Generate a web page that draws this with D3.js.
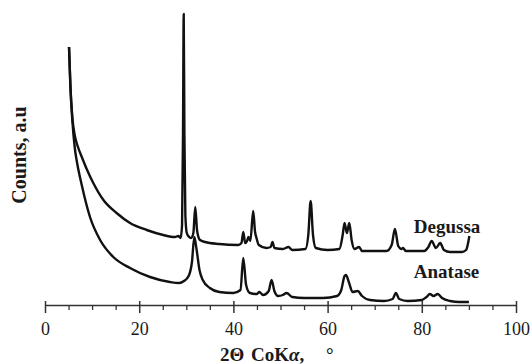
<!DOCTYPE html>
<html>
<head>
<meta charset="utf-8">
<script src="https://cdn.jsdelivr.net/npm/d3@7"></script>
<style>
  html, body { margin: 0; padding: 0; background: #fff; }
  svg { display: block; }
  text { font-family: 'Liberation Serif', 'Times New Roman', serif; fill: #1a1a1a; }
</style>
</head>
<body>
<div id="chart"></div>
<script>
// x ticks (2 theta, degrees)
const majorTicks = [0, 20, 40, 60, 80, 100];
const minorTicks = [5, 10, 15, 25, 30, 35, 45, 50, 55, 65, 70, 75, 85, 90, 95];

// Degussa pattern: [2theta, counts a.u.]
const degussa = [
  [5.1, 258], [5.4, 218], [5.8, 188], [6.3, 170], [7.0, 158], [7.9, 147],
  [8.85, 136], [10.25, 122], [12.4, 105], [15.2, 92], [18.05, 82], [21.6, 75],
  [25.1, 70], [27.6, 68], [28.3, 69], [28.8, 67], [29.1, 80], [29.3, 170],
  [29.45, 291], [29.6, 170], [29.8, 90], [30.1, 72], [30.6, 68], [31.0, 67],
  [31.5, 72], [31.9, 98], [32.3, 74], [32.9, 65], [34.0, 63], [37.0, 61],
  [41.0, 60], [41.7, 62], [42.1, 73], [42.5, 62], [42.9, 64], [43.2, 68],
  [43.6, 64], [44.2, 94], [44.6, 73], [44.9, 67], [45.4, 60], [47.0, 57],
  [47.9, 58], [48.3, 63], [48.7, 57], [50.5, 56], [51.7, 58], [52.5, 55],
  [55.3, 56], [55.9, 70], [56.4, 104], [56.9, 70], [57.5, 57], [60.0, 55],
  [62.5, 56], [63.2, 70], [63.6, 82], [64.1, 72], [64.6, 82], [65.1, 65],
  [65.7, 56], [66.7, 58], [67.3, 54], [72.5, 54], [73.6, 60], [74.3, 76],
  [75.0, 59], [75.7, 56], [76.0, 57], [76.6, 54], [80.5, 54], [81.4, 58],
  [82.1, 64], [83.0, 57], [83.9, 62], [84.7, 55], [86.0, 53], [88.5, 53],
  [89.4, 55], [90.1, 69]
];

// Anatase pattern: [2theta, counts a.u.]
const anatase = [
  [5.1, 258], [5.4, 218], [5.8, 185], [6.3, 158], [6.9, 140], [7.8, 120],
  [9.55, 88], [11.7, 65], [14.5, 48], [18.05, 37], [22.3, 28], [26.5, 23],
  [28.5, 22], [29.5, 24], [30.5, 29], [31.2, 43], [31.7, 68], [32.2, 55],
  [32.8, 35], [33.5, 25], [35.0, 17], [37.0, 13], [40.0, 12], [41.5, 15],
  [42.1, 47], [42.7, 20], [43.5, 12], [45.0, 11], [45.5, 13], [46.3, 10],
  [47.5, 14], [48.1, 25], [48.7, 14], [49.5, 9], [50.5, 10], [51.3, 12],
  [52.5, 8], [55.0, 7], [59.0, 7], [62.0, 9], [62.9, 15], [63.6, 29],
  [63.9, 30], [64.5, 23], [65.3, 13], [66.4, 14], [67.3, 9], [69.0, 5],
  [72.0, 4], [73.8, 6], [74.5, 12], [75.2, 6], [77.0, 4], [80.0, 5],
  [81.0, 8], [81.7, 11], [82.5, 9], [83.4, 11], [84.3, 7], [86.0, 4],
  [88.0, 3], [90.0, 3]
];

// label anchors [2theta, counts]
const seriesLabels = [
  { name: 'Degussa', at: [78.3, 72] },
  { name: 'Anatase', at: [78.3, 27] }
];

const width = 532;
const height = 364;
const margin = { left: 45, right: 16, top: 5, bottom: 59 };

const svg = d3.select('#chart')
  .append('svg')
    .attr('width', width)
    .attr('height', height);

const xScale = d3.scaleLinear()
  .domain([0, 100])
  .range([margin.left, width - margin.right]);

const yScale = d3.scaleLinear()
  .domain([0, 300])
  .range([height - margin.bottom, margin.top]);

const axisY = yScale(0);

//
// Axis
//
const minorAxis = d3.axisBottom(xScale)
  .tickValues(minorTicks)
  .tickSize(5)
  .tickSizeOuter(0)
  .tickFormat('');

svg.append('g')
  .attr('class', 'x minor')
  .attr('transform', `translate(0, ${axisY})`)
  .call(minorAxis)
  .call(g => g.select('.domain').remove())
  .call(g => g.selectAll('line').attr('stroke', '#333').attr('stroke-width', 1.3));

const xAxis = d3.axisBottom(xScale)
  .tickValues(majorTicks)
  .tickSize(8)
  .tickSizeOuter(0)
  .tickPadding(9);

svg.append('g')
  .attr('class', 'x axis')
  .attr('transform', `translate(0, ${axisY})`)
  .call(xAxis)
  .call(g => g.select('.domain').attr('stroke', '#333').attr('stroke-width', 1.5))
  .call(g => g.selectAll('.tick line')
    .attr('y1', -4)
    .attr('stroke', '#333')
    .attr('stroke-width', 1.5))
  .call(g => g.selectAll('.tick text')
    .style('font-family', "'Liberation Serif', serif")
    .style('font-size', '18px')
    .attr('fill', '#1a1a1a'));

//
// Patterns
//
const line = d3.line()
  .x(d => xScale(d[0]))
  .y(d => yScale(d[1]))
  .curve(d3.curveMonotoneX);

[anatase, degussa].forEach(series => {
  svg.append('path')
    .datum(series)
    .attr('fill', 'none')
    .attr('stroke', '#111')
    .attr('stroke-width', 2.4)
    .attr('stroke-linejoin', 'round')
    .attr('d', line);
});

seriesLabels.forEach(s => {
  svg.append('text')
    .attr('x', xScale(s.at[0]))
    .attr('y', yScale(s.at[1]))
    .style('font-size', '19px')
    .style('font-weight', 700)
    .text(s.name);
});

//
// Titles
//
const xTitle = svg.append('text')
  .attr('y', 361)
  .style('font-size', '19px')
  .style('font-weight', 700);
xTitle.append('tspan').attr('x', 220).text('2Θ');
xTitle.append('tspan').attr('x', 251).text('CoK');
xTitle.append('tspan').style('font-style', 'italic').text('α');
xTitle.append('tspan').text(',');
xTitle.append('tspan').attr('x', 326).text('°');

svg.append('text')
  .attr('text-anchor', 'middle')
  .attr('transform', `translate(26, 155) rotate(-90)`)
  .style('font-size', '20px')
  .style('font-weight', 700)
  .text('Counts, a.u');
</script>
</body>
</html>
